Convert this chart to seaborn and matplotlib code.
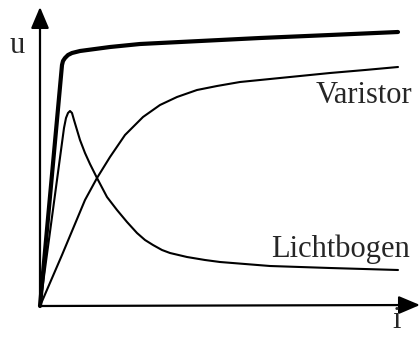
import matplotlib
matplotlib.use("Agg")
import matplotlib.pyplot as plt
import seaborn as sns
import pandas as pd

# u-i characteristics (arbitrary units)
upper_i = [0, 22, 23, 25, 28, 32, 40, 55, 70, 100, 160, 220, 290, 358]
upper_u = [0, 241, 245, 248, 251, 253, 255, 257, 259, 262, 265, 268, 271, 274]

varistor_i = [0, 22, 45, 57, 70, 85, 103, 120, 137, 157, 177, 200, 220, 260, 290, 325, 358]
varistor_u = [0, 51, 106, 128, 149, 171, 189, 201, 209, 216, 220, 224, 226, 230, 233, 236, 239]

arc_i = [0, 24, 26, 28, 30, 32, 34, 37, 40, 45, 50, 57, 67, 77, 87, 97, 105,
         113, 122, 130, 147, 165, 180, 205, 230, 290, 358]
arc_u = [0, 178, 188, 193, 195, 193, 186, 176, 166, 153, 142, 128, 109, 96, 84, 73, 66,
         61, 56, 53, 49, 46, 44, 42, 40, 38, 36]

sns.set_style("white")
plt.rcParams['font.family'] = ['Liberation Serif', 'DejaVu Serif']

fig = plt.figure(figsize=(4.2, 3.4), dpi=100)
ax = fig.add_axes([0, 0, 1, 1])

curves = [
    (upper_i, upper_u, 3.0),
    (varistor_i, varistor_u, 1.5),
    (arc_i, arc_u, 1.5),
]
for xs, ys, lw in curves:
    df = pd.DataFrame({'i': xs, 'u': ys})
    sns.lineplot(data=df, x='i', y='u', ax=ax, color='black', linewidth=lw,
                 sort=False, estimator=None)

# axes with arrow heads
arrow = dict(arrowstyle="-|>,head_length=1.3,head_width=0.55", mutation_scale=10,
             color='black', lw=1.6, shrinkA=0, shrinkB=0)
ax.annotate("", xy=(0, 299), xytext=(0, 0), arrowprops=arrow)
ax.annotate("", xy=(380, 1), xytext=(0, 0), arrowprops=arrow)

ax.text(-23, 253, "u", fontsize=22, ha='center', va='baseline')
ax.text(357, -22, "i", fontsize=22, ha='center', va='baseline')
ax.text(324, 203, "Varistor", fontsize=22, ha='center', va='baseline')
ax.text(300, 49, "Lichtbogen", fontsize=22, ha='center', va='baseline')

ax.set_xlim(-40, 380)
ax.set_ylim(-34, 306)
ax.set_axis_off()

fig.savefig("out.png", dpi=100)
